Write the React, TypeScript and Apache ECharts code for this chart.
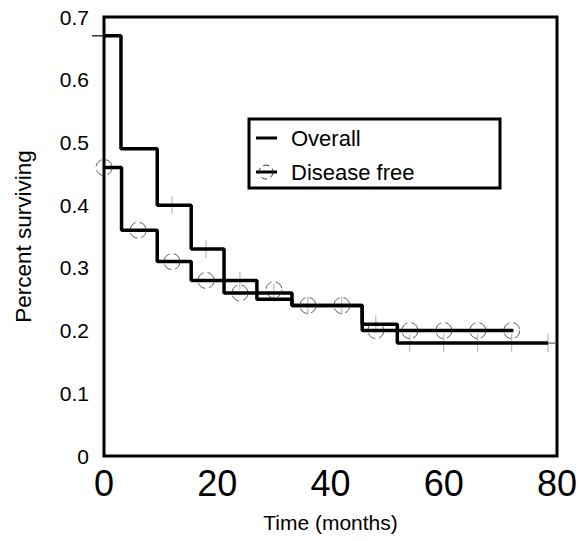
import React, { useEffect, useRef } from "react";
import * as echarts from "echarts";

// Overall survival (Kaplan-Meier steps)
const overallTimes = [0, 3, 9.4, 15.4, 21.2, 27, 33.2, 45.6, 51.8, 78.4];
const overallValues = [0.67, 0.49, 0.4, 0.33, 0.28, 0.26, 0.24, 0.21, 0.18, 0.18];
const overallTail = [[78.4, 0.18], [80, 0.18]];
// censor ticks on overall curve
const overallTickTimes = [12, 18, 24, 30, 36, 42, 48, 54, 60, 66, 72, 78.4];
const overallTickValues = [0.4, 0.33, 0.28, 0.26, 0.24, 0.24, 0.21, 0.18, 0.18, 0.18, 0.18, 0.18];

// Disease free survival
const dfTimes = [0, 3.1, 9.4, 15.4, 21.2, 27, 33.2, 45.6, 72.3];
const dfValues = [0.46, 0.36, 0.31, 0.28, 0.26, 0.25, 0.24, 0.2, 0.2];
// circle markers on disease free curve
const dfMarkTimes = [0, 6, 12, 18, 24, 30, 36, 42, 48, 54, 60, 66, 72];
const dfMarkValues = [0.46, 0.36, 0.31, 0.28, 0.26, 0.265, 0.24, 0.24, 0.2, 0.2, 0.2, 0.2, 0.2];

const xTicks = [0, 20, 40, 60, 80];
const yTicks = [0, 0.1, 0.2, 0.3, 0.4, 0.5, 0.6, 0.7];

const legendLabels = ["Overall", "Disease free"];

const FONT = "Liberation Sans, Arial, Helvetica, sans-serif";

export default function App() {
  const ref = useRef<HTMLDivElement>(null);
  useEffect(() => {
    if (!ref.current) return;
    const chart = echarts.init(ref.current, null, { renderer: "svg" });
    const zip = (a: number[], b: number[]) => a.map((v, i) => [v, b[i]]);
    chart.setOption({
      animation: false,
      backgroundColor: "#fff",
      grid: {
        left: 104,
        top: 17,
        right: 25,
        bottom: 85,
        show: true,
        borderColor: "#000",
        borderWidth: 3,
        backgroundColor: "transparent",
      },
      xAxis: {
        type: "value",
        min: xTicks[0],
        max: xTicks[xTicks.length - 1],
        interval: 20,
        name: "Time (months)",
        nameLocation: "middle",
        nameGap: 56,
        nameTextStyle: { fontFamily: FONT, fontSize: 21, color: "#000" },
        axisLine: { show: false },
        axisTick: { show: false },
        splitLine: { show: false },
        axisLabel: { fontFamily: FONT, fontSize: 36, color: "#000", margin: 9 },
      },
      yAxis: {
        type: "value",
        min: yTicks[0],
        max: yTicks[yTicks.length - 1],
        interval: 0.1,
        name: "Percent surviving",
        nameLocation: "middle",
        nameGap: 69,
        nameTextStyle: { fontFamily: FONT, fontSize: 22.5, color: "#000" },
        axisLine: { show: false },
        axisTick: { show: false },
        splitLine: { show: false },
        axisLabel: {
          fontFamily: FONT,
          fontSize: 21,
          color: "#000",
          margin: 15,
          formatter: (v: number) => (Math.abs(v) < 1e-9 ? "0" : v.toFixed(1)),
        },
      },
      series: [
        {
          type: "scatter",
          data: zip(overallTickTimes, overallTickValues),
          symbol: "rect",
          symbolSize: [1, 18],
          itemStyle: { color: "#999" },
          z: 1,
          silent: true,
        },
        {
          type: "scatter",
          data: [[overallTimes[0], overallValues[0]]],
          symbol: "rect",
          symbolSize: [24, 1.5],
          itemStyle: { color: "#000" },
          z: 1,
          silent: true,
        },
        {
          type: "line",
          data: zip(overallTimes, overallValues),
          step: "end",
          showSymbol: false,
          lineStyle: { color: "#000", width: 3.5 },
          z: 3,
          silent: true,
        },
        {
          type: "line",
          data: overallTail,
          showSymbol: false,
          lineStyle: { color: "#444", width: 1 },
          z: 2,
          silent: true,
        },
        {
          type: "line",
          data: zip(dfTimes, dfValues),
          step: "end",
          showSymbol: false,
          lineStyle: { color: "#000", width: 3.5 },
          z: 3,
          silent: true,
        },
        {
          type: "scatter",
          data: zip(dfMarkTimes, dfMarkValues),
          symbol: "circle",
          symbolSize: 16,
          itemStyle: {
            color: "rgba(0,0,0,0)",
            borderColor: "#333",
            borderWidth: 1,
            borderType: [9, 4],
          },
          z: 4,
          silent: true,
        },
      ],
      graphic: [
        {
          type: "rect",
          shape: { x: 249, y: 119, width: 251, height: 69 },
          style: { fill: "#fff", stroke: "#000", lineWidth: 3 },
          z: 10,
        },
        {
          type: "line",
          shape: { x1: 256, y1: 138, x2: 277, y2: 138 },
          style: { stroke: "#000", lineWidth: 3 },
          z: 11,
        },
        {
          type: "text",
          x: 291,
          y: 138,
          style: {
            text: legendLabels[0],
            fontFamily: FONT,
            fontSize: 22,
            fill: "#000",
            verticalAlign: "middle",
          },
          z: 11,
        },
        {
          type: "line",
          shape: { x1: 256, y1: 172, x2: 277, y2: 172 },
          style: { stroke: "#000", lineWidth: 3 },
          z: 11,
        },
        {
          type: "circle",
          shape: { cx: 266, cy: 172, r: 7 },
          style: { fill: "none", stroke: "#333", lineWidth: 1, lineDash: [6, 4] },
          z: 11,
        },
        {
          type: "text",
          x: 291,
          y: 172,
          style: {
            text: legendLabels[1],
            fontFamily: FONT,
            fontSize: 22,
            fill: "#000",
            verticalAlign: "middle",
          },
          z: 11,
        },
      ],
    });
    return () => chart.dispose();
  }, []);
  return (
    <div
      ref={ref}
      style={{ position: "fixed", left: 0, top: 0, width: 582, height: 541 }}
    />
  );
}
